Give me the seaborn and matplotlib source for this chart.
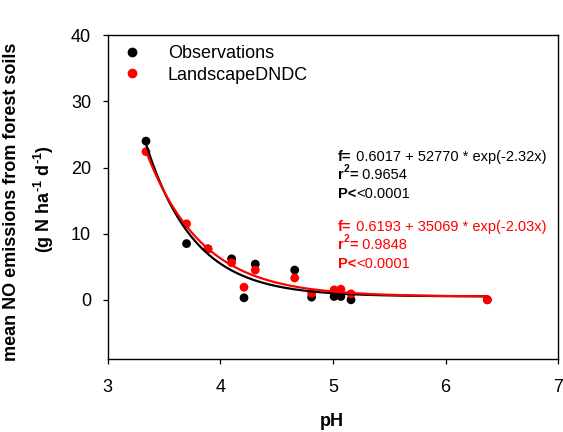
import numpy as np
import pandas as pd
import matplotlib
matplotlib.use("Agg")
import matplotlib.pyplot as plt
import seaborn as sns
from matplotlib.lines import Line2D

# ---- data ----
ph = [3.34, 3.70, 3.89, 4.10, 4.21, 4.31, 4.66, 4.81, 5.01, 5.07, 5.16, 6.37]
obs = [24.0, 8.5, 7.7, 6.2, 0.3, 5.4, 4.5, 0.4, 0.5, 0.5, 0.0, 0.0]
dndc = [22.4, 11.5, 7.7, 5.6, 1.9, 4.5, 3.3, 1.0, 1.5, 1.6, 0.9, 0.0]
series_names = ["Observations", "LandscapeDNDC"]
series_colors = ["black", "red"]
x_ticks = [3, 4, 5, 6, 7]
y_ticks = [0, 10, 20, 30, 40]
eq_obs = ["0.6017 + 52770 * exp(-2.32x)", "0.9654", "<0.0001"]
eq_dndc = ["0.6193 + 35069 * exp(-2.03x)", "0.9848", "<0.0001"]

df = pd.DataFrame({
    "pH": ph * 2,
    "NO": obs + dndc,
    "Source": [series_names[0]] * len(ph) + [series_names[1]] * len(ph),
})


def fit_exp(x, y):
    """least squares fit of y = a + b*exp(c*x) (grid over c, linear in a,b)"""
    x = np.asarray(x, float)
    y = np.asarray(y, float)
    best = None
    for c in np.linspace(-4.0, -1.0, 3001):
        A = np.column_stack([np.ones_like(x), np.exp(c * x)])
        coef, *_ = np.linalg.lstsq(A, y, rcond=None)
        sse = np.sum((A @ coef - y) ** 2)
        if best is None or sse < best[0]:
            best = (sse, coef[0], coef[1], c)
    return best[1:]


xs = np.linspace(min(ph), max(ph), 300)
curves = []
for name, yv in zip(series_names, [obs, dndc]):
    a, b, c = fit_exp(ph, yv)
    curves.append(pd.DataFrame({"pH": xs, "NO": a + b * np.exp(c * xs), "Source": name}))
curve_df = pd.concat(curves, ignore_index=True)

# ---- style ----
sns.set_theme(style="ticks")
plt.rcParams["font.family"] = ["Liberation Sans", "DejaVu Sans"]
plt.rcParams["text.color"] = "black"
plt.rcParams["axes.labelcolor"] = "black"
plt.rcParams["xtick.color"] = "black"
plt.rcParams["ytick.color"] = "black"
plt.rcParams["mathtext.fontset"] = "custom"
plt.rcParams["mathtext.rm"] = "Liberation Sans"
plt.rcParams["mathtext.bf"] = "Liberation Sans:bold"
plt.rcParams["mathtext.it"] = "Liberation Sans:italic"

W, H = 563, 432
fig = plt.figure(figsize=(W / 100, H / 100), dpi=100)
L, R, T, B = 107.7, 558.3, 35.3, 359.3
ax = fig.add_axes([L / W, 1 - B / H, (R - L) / W, (B - T) / H])

palette = dict(zip(series_names, series_colors))
sns.scatterplot(data=df, x="pH", y="NO", hue="Source", palette=palette,
                s=40, edgecolor="none", linewidth=0, ax=ax, legend=False, zorder=2)
sns.lineplot(data=curve_df, x="pH", y="NO", hue="Source", palette=palette,
             linewidth=1.6, ax=ax, legend=False, zorder=3)

ax.set_xlim(3, 7)
ax.set_ylim(-9, 40)
ax.set_xticks(x_ticks)
ax.set_yticks(y_ticks)
ax.tick_params(axis="both", direction="out", length=3.4, width=0.9, labelsize=13,
               color="black", labelcolor="black")
ax.tick_params(axis="x", pad=11)
ax.tick_params(axis="y", pad=8.5)
for sp in ax.spines.values():
    sp.set_visible(True)
    sp.set_linewidth(1.0)
    sp.set_color("black")

ax.set_xlabel("")
ax.set_ylabel("")
fig.text(332 / W, 1 - 422 / H, "pH", ha="center", va="center",
         fontsize=13, fontweight="bold", color="black")
fig.text(12 / W, 1 - 202 / H, "mean NO emissions from forest soils", rotation=90,
         ha="center", va="center", fontsize=13, fontweight="bold", color="black")
fig.text(44 / W, 1 - 199 / H,
         "(g N ha$^{\\mathbf{\u2010}\\mathbf{1}}$ d$^{\\mathbf{\u2010}\\mathbf{1}}$)",
         rotation=90, ha="center", va="center", fontsize=13, fontweight="bold",
         color="black")

# legend
handles = [Line2D([], [], marker="o", linestyle="none", color=c, markersize=6)
           for c in series_colors]
leg = ax.legend(handles, series_names, loc="upper left",
                bbox_to_anchor=((122.7 - L) / (R - L), (B - 45) / (B - T)),
                frameon=False, fontsize=13, handlelength=1.0, handletextpad=1.5,
                labelspacing=0.25, borderpad=0, borderaxespad=0)
for t in leg.get_texts():
    t.set_color("black")


# equation annotations: bold and regular pieces chained on one baseline
def px2data(xp, yp):
    return 3 + (xp - L) / (R - L) * 4, 40 - (yp - T) / (B - T) * 49


EQ_FS = 10.5


def chain(x, y, pieces, color):
    prev = None
    for txt, weight, dy in pieces:
        kw = dict(color=color, fontsize=EQ_FS, fontweight=weight, va="bottom", ha="left")
        if prev is None:
            prev = ax.text(x, y, txt, **kw)
        else:
            if dy > 0:
                kw["fontsize"] = EQ_FS * 0.7
            prev = ax.annotate(txt, xy=(1, 0), xycoords=prev, xytext=(0, dy),
                               textcoords="offset points", **kw)


def eq_block(eq, color, y0):
    x, y1 = px2data(338, y0 + 3)
    _, y2 = px2data(338, y0 + 21)
    _, y3 = px2data(338, y0 + 40)
    chain(x, y1, [("f=", "bold", 0), (" " + eq[0], "normal", 0)], color)
    chain(x, y2, [("r", "bold", 0), ("2", "bold", 5.5), ("=", "bold", -5.5),
                  (" " + eq[1], "normal", 0)], color)
    chain(x, y3, [("P<", "bold", 0), (eq[2], "normal", 0)], color)


eq_block(eq_obs, "black", 160.7)
eq_block(eq_dndc, "red", 230.5)

fig.savefig("out.png", dpi=100)
